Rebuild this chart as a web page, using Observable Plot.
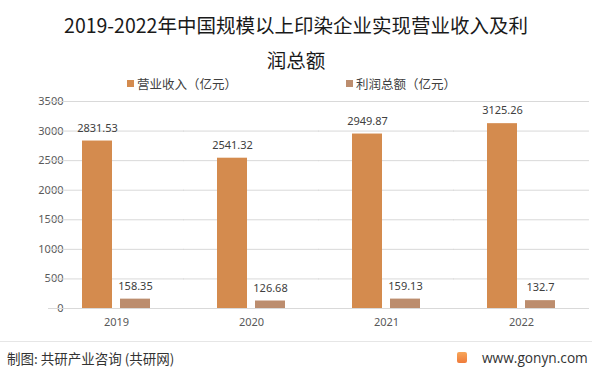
<!DOCTYPE html>
<html><head><meta charset="utf-8">
<script src="https://cdn.jsdelivr.net/npm/d3@7"></script>
<script src="https://cdn.jsdelivr.net/npm/@observablehq/plot@0.6"></script>
<style>
body{margin:0;background:#fff;font-family:"Noto Sans CJK SC","Noto Sans",sans-serif;}
#wrap{width:601px;height:374px;position:relative;overflow:hidden;}
#title{position:absolute;left:0;top:7px;width:592px;text-align:center;font-size:19.5px;line-height:35px;color:#1a1a1a;}
#legend{position:absolute;top:74px;left:0;width:601px;font-size:12.5px;color:#404040;}
.li{position:absolute;display:flex;align-items:center;height:18px;}
.sw{width:7px;height:7px;margin-right:3px;}
#chart{position:absolute;left:0;top:92px;}
#foot{position:absolute;left:0;top:341px;width:592px;border-top:1px solid #e6e6e6;}
#fl{position:absolute;left:7px;top:348px;font-size:13.5px;color:#333;}
#fr{position:absolute;left:457px;top:348px;font-size:13.7px;color:#333;display:flex;align-items:center;font-family:"Open Sans","Noto Sans",sans-serif;}
.logo{width:10px;height:11px;background:linear-gradient(#f7a65a,#ef7b3a);margin-right:15px;border-radius:2px;}
</style></head>
<body><div id="wrap">
<div id="title">2019-2022年中国规模以上印染企业实现营业收入及利<br>润总额</div>
<div id="legend"></div>
<div id="chart"></div>
<div id="foot"></div>
<div id="fl">制图: 共研产业咨询 (共研网)</div>
<div id="fr"><div class="logo"></div>www.gonyn.com</div>
</div>
<script>
const years = ["2019","2020","2021","2022"];
const seriesNames = ["营业收入（亿元）","利润总额（亿元）"];
const revenue = [2831.53, 2541.32, 2949.87, 3125.26];
const profit = [158.35, 126.68, 159.13, 132.7];
const labelsRevenue = ["2831.53","2541.32","2949.87","3125.26"];
const labelsProfit = ["158.35","126.68","159.13","132.7"];
const yTicks = [0,500,1000,1500,2000,2500,3000,3500];
const colors = ["#D48B4E","#BC8D6E"];

const data = [];
years.forEach((y,i)=>{
  data.push({year:y, series:seriesNames[0], value:revenue[i], label:labelsRevenue[i]});
  data.push({year:y, series:seriesNames[1], value:profit[i], label:labelsProfit[i]});
});

const leg = document.getElementById("legend");
const legX = [127, 346];
seriesNames.forEach((s,i)=>{
  const d = document.createElement("div");
  d.className="li"; d.style.left=legX[i]+"px";
  d.innerHTML = `<span class="sw" style="background:${colors[i]}"></span>${s}`;
  leg.appendChild(d);
});

const W = 601, mL = 47, mR = 11;
const step = (W - mL - mR) / years.length;
const pIn = 0.38, pOut = 0.19;
const ext = -(pOut * step) - 0.2;

const chart = Plot.plot({
  width: W, height: 243,
  marginLeft: mL, marginRight: mR, marginTop: 9, marginBottom: 27,
  style:{fontFamily:'"Noto Sans","Noto Sans CJK SC",sans-serif', fontSize:"11px", color:"#595959", background:"transparent"},
  fx:{domain:years, paddingInner:pIn, paddingOuter:pOut, axis:"bottom", label:null, tickSize:0, tickPadding:10},
  x:{domain:seriesNames, axis:null, padding:0.21},
  y:{domain:[0,3500], ticks:yTicks, tickFormat:d=>String(d), label:null, tickSize:0, tickPadding:11},
  color:{domain:seriesNames, range:colors},
  marks:[
    Plot.ruleY(yTicks, {stroke:"#d9d9d9", strokeWidth:1, insetLeft:ext, insetRight:ext}),
    Plot.barY(data, {fx:"year", x:"series", y:"value", fill:"series"}),
    Plot.text(data, {fx:"year", x:"series", y:"value", text:"label", dy:-13, fill:"#404040", fontSize:11})
  ]
});
document.getElementById("chart").appendChild(chart);
</script>
</body></html>
